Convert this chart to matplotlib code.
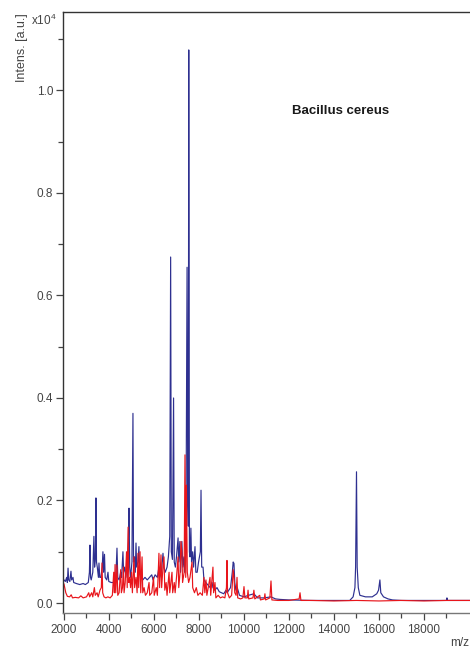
import numpy as np
import matplotlib
matplotlib.use("Agg")
import matplotlib.pyplot as plt
from matplotlib.ticker import MultipleLocator, FixedLocator

plt.rcParams['font.family'] = ['Liberation Sans', 'DejaVu Sans']
plt.rcParams['mathtext.default'] = 'regular'

# spectrum traces (m/z, intensity in 1e4 a.u.)
blue_mz = [2000, 2060, 2120, 2150, 2180, 2210, 2260, 2310, 2340, 2400, 2430, 2550, 2700, 2850, 2950,
           3080, 3130, 3155, 3180, 3210, 3280, 3330, 3360, 3400, 3420, 3445, 3480, 3530, 3555, 3590,
           3640, 3700, 3730, 3760, 3800, 3830, 3900, 3955, 3990, 4100, 4200, 4300, 4355, 4390, 4450,
           4520, 4560, 4620, 4650, 4700, 4750, 4820, 4860, 4890, 4920, 4960, 5020, 5065, 5090, 5130,
           5170, 5200, 5230, 5290, 5330, 5360, 5420, 5500, 5600, 5700, 5800, 5900, 5960, 6050, 6150,
           6220, 6250, 6330, 6400, 6440, 6500, 6580, 6640, 6700, 6740, 6770, 6820, 6870, 6900, 6950,
           7000, 7070, 7100, 7150, 7180, 7240, 7280, 7330, 7360, 7420, 7470, 7500, 7525, 7545, 7575,
           7600, 7640, 7670, 7720, 7760, 7822, 7860, 7920, 7980, 8060, 8090, 8120, 8180, 8220, 8300,
           8400, 8500, 8580, 8620, 8700, 8800, 8900, 9000, 9100, 9200, 9250, 9400, 9480, 9520, 9555,
           9590, 9640, 9700, 9800, 10000, 10200, 10440, 10600, 10900, 11200, 11400, 11600, 12000, 13000, 14000,
           14700, 14850, 14930, 14960, 15000, 15030, 15080, 15150, 15400, 15700, 15900, 15980, 16040, 16080, 16200,
           16400, 16600, 17000, 18000, 19000, 19020, 19040, 20500]
blue_int = [0.045, 0.042, 0.05, 0.04, 0.068, 0.045, 0.042, 0.062, 0.045, 0.05, 0.04, 0.038, 0.036, 0.038, 0.036,
            0.04, 0.06, 0.113, 0.05, 0.045, 0.06, 0.13, 0.07, 0.09, 0.205, 0.08, 0.07, 0.05, 0.078, 0.05,
            0.05, 0.07, 0.1, 0.06, 0.095, 0.05, 0.045, 0.06, 0.042, 0.04, 0.04, 0.045, 0.107, 0.05, 0.045,
            0.06, 0.05, 0.1, 0.06, 0.07, 0.05, 0.09, 0.12, 0.185, 0.07, 0.05, 0.08, 0.37, 0.08, 0.09,
            0.06, 0.117, 0.07, 0.08, 0.11, 0.06, 0.05, 0.045, 0.05, 0.045, 0.05, 0.055, 0.045, 0.055, 0.05,
            0.07, 0.05, 0.06, 0.097, 0.07, 0.06, 0.07, 0.09, 0.13, 0.675, 0.1, 0.085, 0.4, 0.08, 0.07,
            0.09, 0.127, 0.08, 0.12, 0.06, 0.12, 0.07, 0.09, 0.06, 0.12, 0.655, 0.2, 0.15, 1.079, 0.1,
            0.09, 0.146, 0.08, 0.1, 0.07, 0.11, 0.06, 0.06, 0.08, 0.1, 0.22, 0.07, 0.07, 0.045, 0.04,
            0.035, 0.03, 0.04, 0.03, 0.025, 0.03, 0.022, 0.02, 0.018, 0.025, 0.02, 0.03, 0.06, 0.08, 0.077,
            0.04, 0.025, 0.03, 0.015, 0.012, 0.015, 0.018, 0.01, 0.01, 0.012, 0.008, 0.007, 0.006, 0.005, 0.005,
            0.005, 0.012, 0.03, 0.07, 0.256, 0.07, 0.03, 0.015, 0.012, 0.012, 0.018, 0.025, 0.045, 0.02, 0.012,
            0.008, 0.006, 0.005, 0.005, 0.005, 0.01, 0.005, 0.005]

red_mz = [2000, 2040, 2080, 2150, 2250, 2320, 2380, 2500, 2650, 2750, 2850, 3000, 3100, 3140, 3230,
          3280, 3350, 3390, 3470, 3520, 3600, 3660, 3690, 3720, 3780, 3860, 3950, 4050, 4150, 4210,
          4240, 4270, 4300, 4355, 4390, 4450, 4520, 4550, 4600, 4640, 4670, 4720, 4780, 4810, 4850,
          4880, 4920, 4960, 5000, 5040, 5110, 5140, 5200, 5250, 5290, 5320, 5380, 5410, 5470, 5500,
          5560, 5620, 5700, 5780, 5810, 5900, 5980, 6010, 6100, 6150, 6220, 6250, 6311, 6340, 6400,
          6444, 6480, 6540, 6580, 6670, 6700, 6800, 6830, 6900, 6940, 7000, 7070, 7100, 7160, 7200,
          7240, 7270, 7340, 7378, 7410, 7440, 7480, 7540, 7600, 7690, 7720, 7800, 7880, 7950, 8050,
          8150, 8220, 8260, 8310, 8350, 8490, 8520, 8620, 8650, 8710, 8750, 8850, 8950, 9050, 9150,
          9220, 9244, 9270, 9350, 9450, 9520, 9555, 9590, 9650, 9690, 9720, 9850, 9950, 10000, 10040,
          10150, 10180, 10210, 10400, 10440, 10480, 10700, 10730, 10900, 10930, 10960, 11150, 11200, 11240, 11500,
          12000, 12450, 12490, 12530, 13000, 14000, 15000, 16000, 17000, 18000, 19000, 20500]
red_int = [0.037, 0.028, 0.02, 0.013, 0.012, 0.016, 0.01, 0.011, 0.01, 0.014, 0.01, 0.012, 0.02, 0.012, 0.02,
           0.012, 0.03, 0.015, 0.02, 0.012, 0.025, 0.03, 0.078, 0.02, 0.012, 0.01, 0.012, 0.01, 0.015, 0.06,
           0.02, 0.075, 0.02, 0.074, 0.015, 0.02, 0.065, 0.02, 0.03, 0.07, 0.02, 0.04, 0.1, 0.03, 0.148,
           0.04, 0.05, 0.03, 0.06, 0.02, 0.09, 0.03, 0.05, 0.02, 0.097, 0.03, 0.1, 0.02, 0.09, 0.02,
           0.03, 0.015, 0.02, 0.04, 0.015, 0.02, 0.05, 0.015, 0.03, 0.015, 0.097, 0.03, 0.094, 0.03, 0.07,
           0.09, 0.025, 0.04, 0.015, 0.06, 0.02, 0.06, 0.02, 0.04, 0.02, 0.05, 0.09, 0.03, 0.06, 0.12,
           0.1, 0.04, 0.06, 0.289, 0.05, 0.23, 0.06, 0.04, 0.05, 0.08, 0.03, 0.02, 0.03, 0.015, 0.02,
           0.015, 0.05, 0.02, 0.045, 0.015, 0.05, 0.015, 0.07, 0.02, 0.04, 0.01, 0.015, 0.01, 0.012, 0.01,
           0.03, 0.083, 0.02, 0.01, 0.015, 0.065, 0.05, 0.02, 0.015, 0.05, 0.01, 0.008, 0.01, 0.032, 0.01,
           0.01, 0.025, 0.008, 0.01, 0.025, 0.008, 0.015, 0.006, 0.008, 0.018, 0.006, 0.01, 0.043, 0.006, 0.005,
           0.005, 0.008, 0.02, 0.005, 0.005, 0.004, 0.005, 0.004, 0.005, 0.004, 0.005, 0.005]

x_major = [2000, 4000, 6000, 8000, 10000, 12000, 14000, 16000, 18000]
x_minor = [3000, 5000, 7000, 9000, 11000, 13000, 15000, 17000, 19000]
y_major = [0.0, 0.2, 0.4, 0.6, 0.8, 1.0]

fig = plt.figure(figsize=(4.70, 6.52), dpi=100)
ax = fig.add_axes([63 / 470, 39 / 652, 1 - 63 / 470, (613 - 12) / 652])

ax.plot(blue_mz, blue_int, color='#2e3090', lw=0.85)
ax.plot(red_mz, red_int, color='#e8151b', lw=0.85)

ax.set_xlim(1956, 2000 + (470 - 64) * 2000 / 45)
ax.set_ylim(-0.0195, 1.153)

ax.xaxis.set_major_locator(FixedLocator(x_major))
ax.xaxis.set_minor_locator(FixedLocator(x_minor))
ax.yaxis.set_major_locator(FixedLocator(y_major))
ax.yaxis.set_minor_locator(MultipleLocator(0.1))
ax.set_yticklabels(['%.1f' % v for v in y_major])
ax.set_xticklabels([str(v) for v in x_major])

ax.tick_params(axis='both', which='major', direction='out', length=5, width=0.9,
               colors='#444444', labelsize=8.5)
ax.tick_params(axis='both', which='minor', direction='out', length=3.5, width=0.9, colors='#444444')
ax.tick_params(axis='x', pad=3)
ax.tick_params(axis='y', pad=2)

ax.spines['right'].set_visible(False)
for s in ['left', 'top', 'bottom']:
    ax.spines[s].set_color('#333333')
    ax.spines[s].set_linewidth(1.0)
ax.spines['bottom'].set_color('#777777')

# axis captions placed like the instrument software does
fig.text(31 / 470, 1 - 25 / 652, r'x10$^4$', fontsize=8.5, color='#444444', ha='left', va='baseline')
fig.text(22 / 470, 1 - 48 / 652, 'Intens. [a.u.]', fontsize=9, color='#444444', rotation=90,
         ha='center', va='center')
fig.text(469 / 470, 1 - 643 / 652, 'm/z', fontsize=8.5, color='#444444', ha='right', va='center')
fig.text(341 / 470, 1 - 111 / 652, 'Bacillus cereus', fontsize=9.5, fontweight='bold',
         color='#1a1a1a', ha='center', va='center')

fig.savefig('out.png', dpi=100)
